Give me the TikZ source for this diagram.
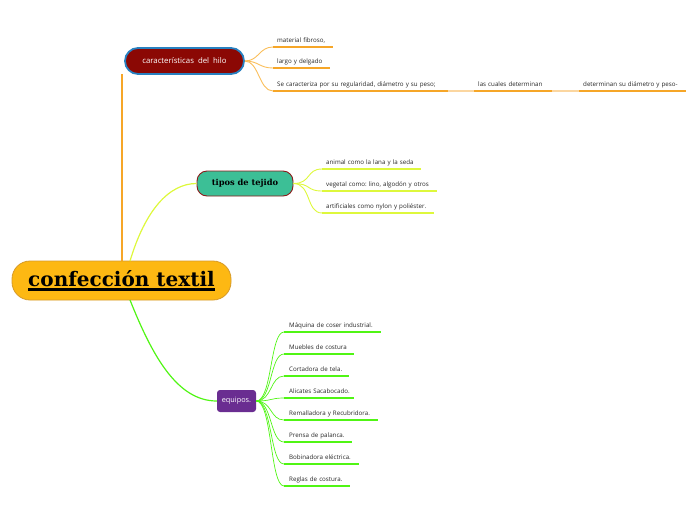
\documentclass[tikz,border=0pt]{standalone}
\usepackage{fontspec}
\setmainfont{Open Sans}
\newfontfamily\slabfont{DejaVu Serif}
\frenchspacing
\definecolor{orline}{RGB}{246,166,40}
\definecolor{orlight}{RGB}{251,214,160}
\definecolor{orconn}{RGB}{250,190,90}
\definecolor{ygline}{RGB}{222,248,60}
\definecolor{grline}{RGB}{80,245,20}
\definecolor{cenfill}{RGB}{253,184,19}
\definecolor{cenborder}{RGB}{214,154,40}
\definecolor{charfill}{RGB}{139,8,4}
\definecolor{charborder}{RGB}{40,128,192}
\definecolor{tipfill}{RGB}{60,191,150}
\definecolor{tipborder}{RGB}{140,26,26}
\definecolor{eqfill}{RGB}{106,45,145}
\newcommand\thickul[1]{\setbox0\hbox{#1}\rlap{\rule[-4.2pt]{\wd0}{2.4pt}}\box0}
\tikzset{
  leaf/.style={anchor=south west, font=\fontsize{6.2}{7}\selectfont, text=black!85,
    inner xsep=4pt, inner ysep=2.5pt, text height=4.8pt, text depth=1.4pt, align=left},
  ulor/.style={draw=orline, line width=1.8pt},
  ulyg/.style={draw=ygline, line width=1.8pt},
  ulgr/.style={draw=grline, line width=1.8pt},
}
\begin{document}
\begin{tikzpicture}[x=1pt,y=-1pt]
\useasboundingbox (0,0) rectangle (696,520);
% main nodes
\node[fill=cenfill, draw=cenborder, line width=0.8pt, rounded corners=18pt,
  minimum width=219pt, minimum height=39pt, inner sep=0pt,
  font=\slabfont\bfseries\fontsize{20}{23}\selectfont] (cen) at (121.5,280.5) {\thickul{confección textil}};
\node[fill=charfill, draw=charborder, line width=1.8pt, rounded corners=13pt,
  minimum width=119pt, minimum height=26pt, inner sep=0pt, text=white,
  font=\fontsize{7.8}{8.5}\selectfont] (char) at (184.5,61) {características\ \ del\ \ hilo};
\node[fill=tipfill, draw=tipborder, line width=0.9pt, rounded corners=10pt,
  minimum width=96pt, minimum height=25pt, inner sep=0pt,
  font=\slabfont\bfseries\fontsize{8.3}{9}\selectfont] (tip) at (245,183.5) {tipos de tejido};
\node[fill=eqfill, rounded corners=3pt, minimum width=39pt, minimum height=22pt,
  inner sep=0pt, text=white, font=\fontsize{7.3}{8}\selectfont] (eq) at (236.5,401) {equipos.};
% main connectors
\coordinate (cA) at (122,261);
\coordinate (cB) at (130,261);
\coordinate (cC) at (130,300);
\coordinate (chB) at (122,74);
\draw[orline, line width=1.6pt] (cA) -- (chB);
\draw[ygline, line width=1.2pt] (cB) .. controls +(15,-50) and +(-28,0) .. (tip.west);
\draw[grline, line width=1.2pt] (cC) .. controls +(22,55) and +(-40,0) .. (eq.west);
% char leaves
\node[leaf, text width=52pt] (m1) at (273,47) {\mbox{material fibroso,}};
\node[leaf, text width=49pt] (m2) at (273,68) {\mbox{largo y delgado}};
\node[leaf, text width=167pt] (m3) at (273,91) {\mbox{Se caracteriza por su regularidad, diámetro y su peso;}};
\node[leaf, text width=70pt] (m4) at (474,91) {\mbox{las cuales determinan}};
\node[leaf, text width=99pt] (m5) at (579,91) {\mbox{determinan su diámetro y peso-}};
\foreach \n in {m1,m2,m3,m4,m5} \draw[ulor] (\n.south west) -- (\n.south east);
\foreach \n in {m1,m2,m3} \draw[orconn, line width=0.9pt] (char.east) .. controls +(14,0) and +(-14,0) .. (\n.south west);
\draw[orlight, line width=1.8pt] (m3.south east) -- (m4.south west);
\draw[orlight, line width=1.8pt] (m4.south east) -- (m5.south west);
% tipos leaves
\node[leaf, text width=91pt] (t1) at (322,169) {\mbox{animal como la lana y la seda}};
\node[leaf, text width=107pt] (t2) at (322,191) {\mbox{vegetal como: lino, algodón y otros}};
\node[leaf, text width=104pt] (t3) at (322,213) {\mbox{artificiales como nylon y poliéster.}};
\foreach \n in {t1,t2,t3} {
  \draw[ulyg] (\n.south west) -- (\n.south east);
  \draw[ygline, line width=0.9pt] (tip.east) .. controls +(18,0) and +(-16,0) .. (\n.south west);
}
% equipos leaves
\tikzset{eqleaf/.style={leaf, inner xsep=5pt}}
\node[eqleaf, text width=87pt] (e1) at (284,332) {\mbox{Máquina de coser industrial.}};
\node[eqleaf, text width=60pt] (e2) at (284,354) {\mbox{Muebles de costura}};
\node[eqleaf, text width=55pt] (e3) at (284,376) {\mbox{Cortadora de tela.}};
\node[eqleaf, text width=60pt] (e4) at (284,398) {\mbox{Alicates Sacabocado.}};
\node[eqleaf, text width=84pt] (e5) at (284,420) {\mbox{Remalladora y Recubridora.}};
\node[eqleaf, text width=58pt] (e6) at (284,442) {\mbox{Prensa de palanca.}};
\node[eqleaf, text width=65pt] (e7) at (284,464) {\mbox{Bobinadora eléctrica.}};
\node[eqleaf, text width=56pt] (e8) at (284,486) {\mbox{Reglas de costura.}};
\foreach \n in {e1,e2,e3,e4,e5,e6,e7,e8} {
  \draw[ulgr] (\n.south west) -- (\n.south east);
  \draw[grline, line width=0.7pt] (eq.east) .. controls +(16,0) and +(-14,0) .. (\n.south west);
}
\end{tikzpicture}
\end{document}
